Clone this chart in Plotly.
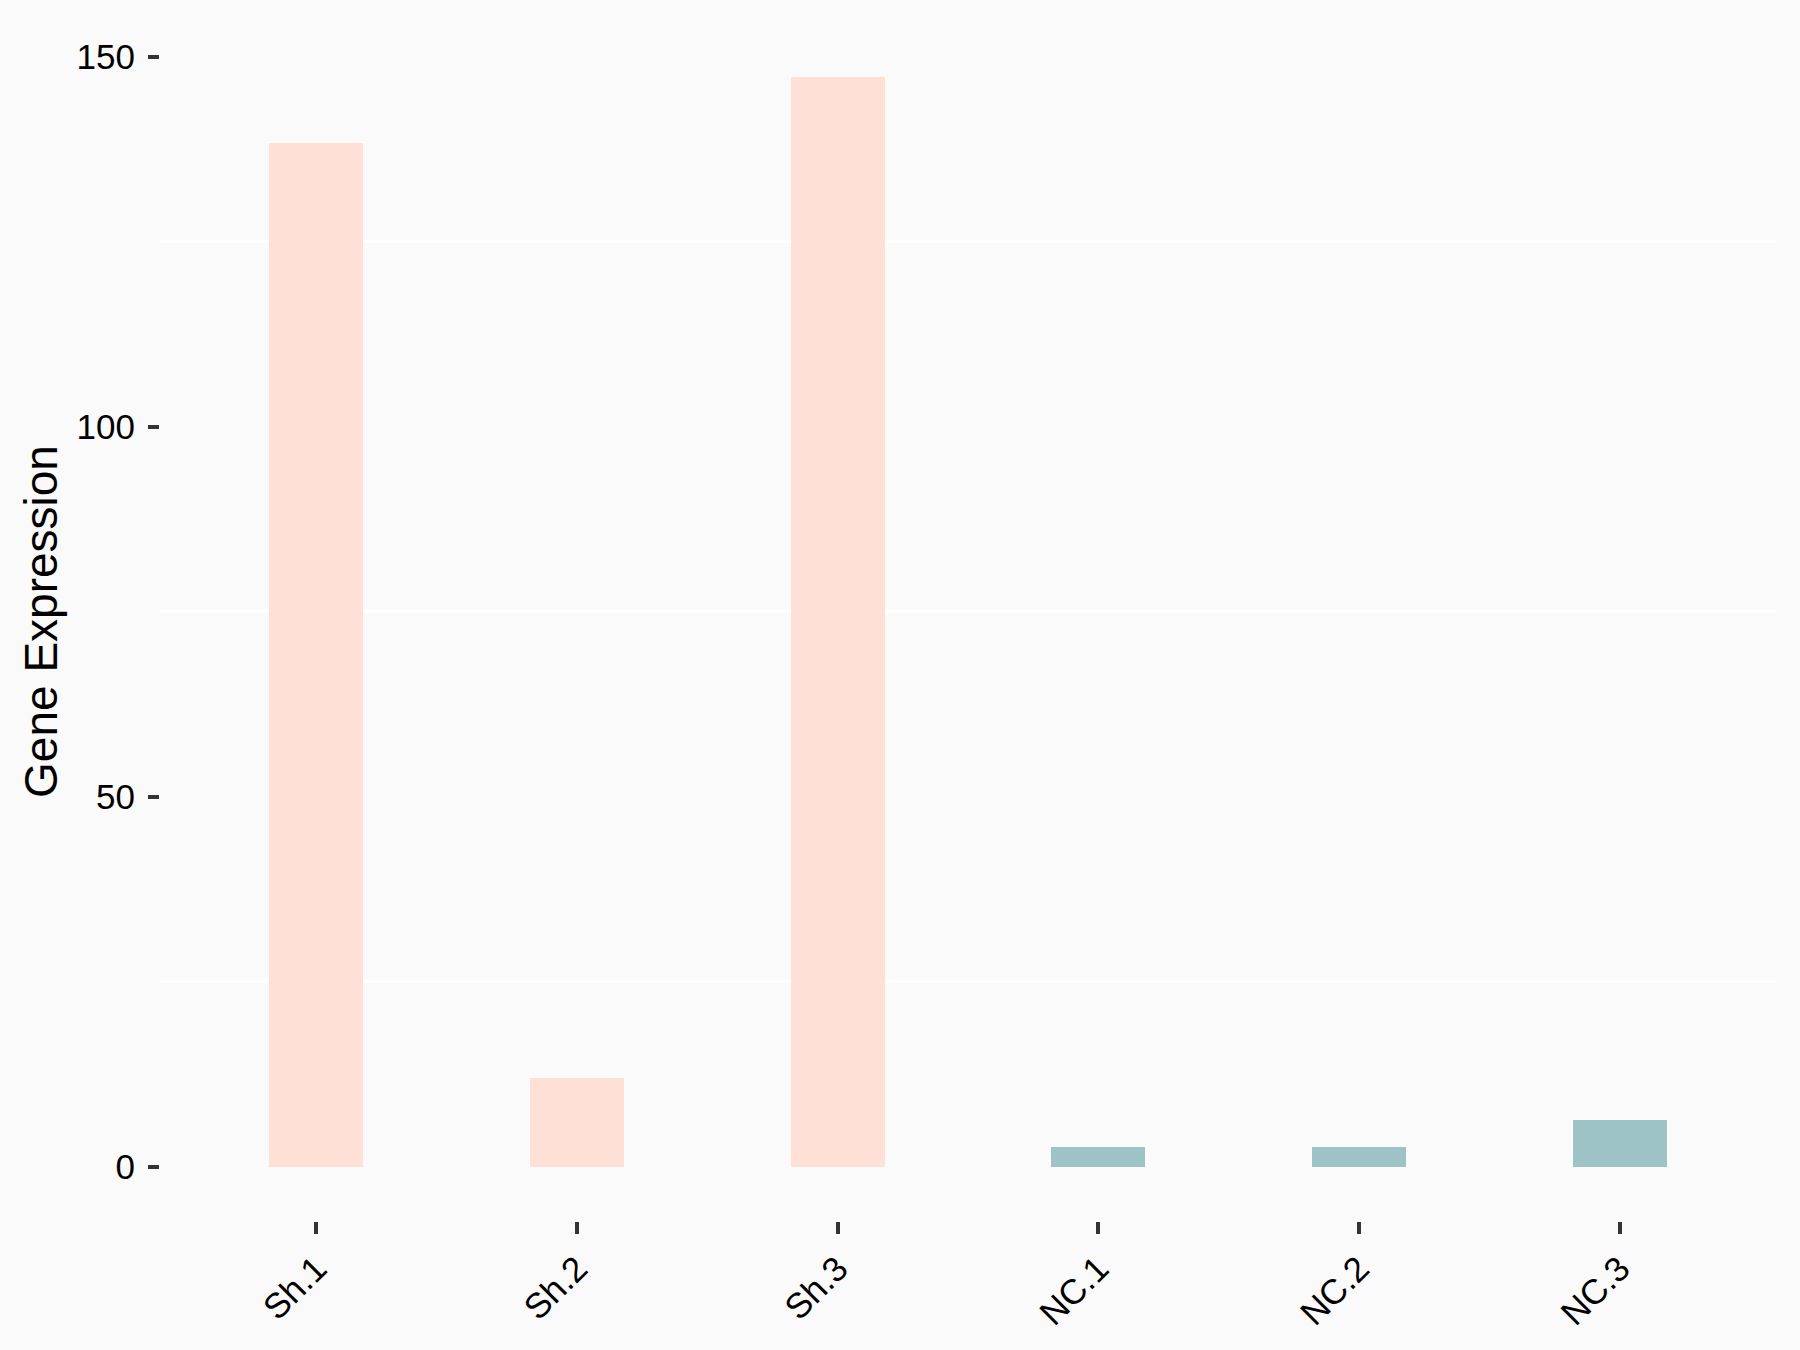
import plotly.graph_objects as go

categories = ["Sh.1", "Sh.2", "Sh.3", "NC.1", "NC.2", "NC.3"]
groups = ["Sh", "Sh", "Sh", "NC", "NC", "NC"]
values = [138.3, 12.0, 147.3, 2.6, 2.6, 6.3]
group_colors = {"Sh": "#FEE0D6", "NC": "#9DC3C7"}
y_ticks = [0, 50, 100, 150]
y_minor = [25, 75, 125]

fig = go.Figure()
for g in ["Sh", "NC"]:
    xs = [c for c, gg in zip(categories, groups) if gg == g]
    ys = [v for v, gg in zip(values, groups) if gg == g]
    fig.add_trace(go.Bar(x=xs, y=ys, width=0.36, marker=dict(color=group_colors[g], line=dict(width=0)),
                         showlegend=False))

vmax = max(values)
pad = 0.05 * vmax
font_family = "Arial, 'Liberation Sans', sans-serif"

fig.update_layout(
    width=1800, height=1350,
    margin=dict(l=160, r=24, t=22, b=129),
    paper_bgcolor="#FAFAFA", plot_bgcolor="#FAFAFA",
    font=dict(family=font_family, color="black"),
    bargap=0,
)
fig.update_xaxes(
    type="category", categoryorder="array", categoryarray=categories,
    range=[-0.6, len(categories) - 0.4],
    showgrid=False, zeroline=False, showline=False,
    ticks="outside", ticklen=12, tickwidth=4, tickcolor="#333333",
    tickangle=-45, tickfont=dict(size=35, color="black", family=font_family),
)
fig.update_yaxes(
    range=[-pad, vmax + pad],
    tickvals=y_ticks, ticktext=[str(t) for t in y_ticks],
    showgrid=False, zeroline=False, showline=False,
    ticks="outside", ticklen=11, tickwidth=4, tickcolor="#333333",
    ticklabelstandoff=6,
    tickfont=dict(size=35, color="black", family=font_family),
    minor=dict(tickmode="array", tickvals=y_minor, showgrid=True, gridcolor="white", gridwidth=2.5, ticks=""),
    title=dict(text="Gene Expression", font=dict(size=46, color="black", family=font_family), standoff=4),
)

fig.write_html("out.html", config={"displayModeBar": False},
               post_script="document.body.style.margin='0';document.body.style.background='#FAFAFA';")
